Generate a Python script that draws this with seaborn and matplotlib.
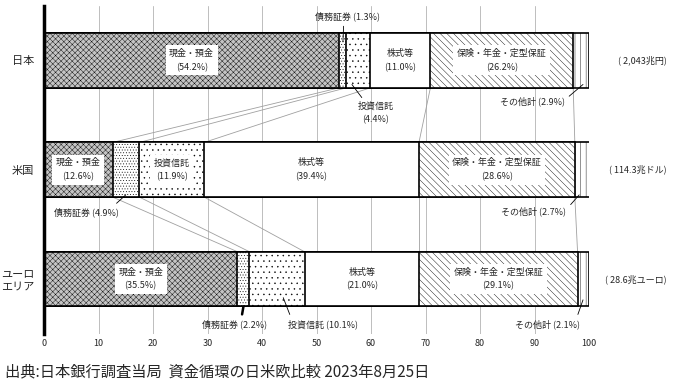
import matplotlib
matplotlib.use('Agg')
import matplotlib.pyplot as plt
import seaborn as sns
import pandas as pd
import numpy as np

# ---- data ----
regions = ['日本', '米国', 'ユーロ\nエリア']
totals = ['( 2,043兆円)', '( 114.3兆ドル)', '( 28.6兆ユーロ)']
segments = ['現金・預金', '債務証券', '投資信託', '株式等', '保険・年金・定型保証', 'その他計']
cash = [54.2, 12.6, 35.5]
debt = [1.3, 4.9, 2.2]
trusts = [4.4, 11.9, 10.1]
equity = [11.0, 39.4, 21.0]
insurance = [26.2, 28.6, 29.1]
other = [2.9, 2.7, 2.1]
xticks = list(range(0, 101, 10))
source = '出典:日本銀行調査当局  資金循環の日米欧比較 2023年8月25日'

# ---- styles ----
sns.set_style('white')
plt.rcParams['font.family'] = ['Noto Sans CJK JP', 'DejaVu Sans']
plt.rcParams['hatch.linewidth'] = 0.3

seg_styles = [
    dict(color='#c4c4c4', hatch='xxxxxx'),
    dict(color='white', hatch='......'),
    dict(color='white', hatch='...'),
    dict(color='white', hatch=''),
    dict(color='white', hatch='\\' * 5),
    dict(color='white', hatch='|||'),
]

values = np.array([cash, debt, trusts, equity, insurance, other])
cum = np.cumsum(values, axis=0)
starts = cum - values

df = pd.DataFrame({'region': regions})

fig = plt.figure(figsize=(6.75, 3.85), dpi=100)
ax = fig.add_axes([44 / 675, 1 - 333.75 / 385, 545 / 675, 328 / 385])

for k in reversed(range(len(segments))):
    df['v'] = cum[k]
    sns.barplot(data=df, x='v', y='region', order=regions, orient='h',
                width=0.5, saturation=1, errorbar=None,
                edgecolor='black', linewidth=1.2, ax=ax, **seg_styles[k])

# connecting lines between bars
for i in range(len(regions) - 1):
    for k in range(len(segments) - 1):
        ax.plot([cum[k][i], cum[k][i + 1]], [i + 0.25, i + 1 - 0.25],
                color='#a0a0a0', lw=0.6, zorder=0.8)

# inside labels
inside = {0: [0, 3, 4], 1: [0, 2, 3, 4], 2: [0, 3, 4]}
for i, ks in inside.items():
    for k in ks:
        cx = starts[k][i] + values[k][i] / 2
        ax.text(cx, i, f'{segments[k]}\n({values[k][i]:.1f}%)', ha='center', va='center',
                fontsize=6.5, linespacing=1.7, zorder=5,
                bbox=dict(facecolor='white', edgecolor='none', pad=2.5))

# outside labels with leaders: (region, segment, text pos, tip pos, format, relpos)
outside = [
    (0, 1, (55.6, -0.40), (54.85, -0.17), '{s} ({v}%)', (0.45, 0)),
    (0, 2, (60.9, 0.48), (56.5, 0.22), '{s}\n({v}%)', (0.2, 1)),
    (0, 5, (89.6, 0.37), (98.9, 0.22), '{s} ({v}%)', (1, 0.6)),
    (1, 1, (7.7, 1.39), (15.0, 1.23), '{s} ({v}%)', (0.9, 1)),
    (1, 5, (89.9, 1.38), (98.2, 1.23), '{s} ({v}%)', (1, 0.7)),
    (2, 1, (35.0, 2.41), (36.6, 2.25), '{s} ({v}%)', (0.6, 1)),
    (2, 2, (51.2, 2.41), (43.9, 2.17), '{s} ({v}%)', (0.05, 1)),
    (2, 5, (92.3, 2.41), (98.9, 2.19), '{s} ({v}%)', (0.95, 1)),
]
for i, k, tpos, tip, fmt, rel in outside:
    lw = 1.8 if (i == 2 and k == 1) else 0.6
    ax.annotate(fmt.format(s=segments[k], v=f'{values[k][i]:.1f}'), xy=tip, xytext=tpos,
                ha='center', va='center', fontsize=6.5, linespacing=1.5, zorder=6,
                arrowprops=dict(arrowstyle='-', lw=lw, color='black', shrinkA=1, shrinkB=0,
                                relpos=rel))

# totals
for i, t in enumerate(totals):
    ax.text(114.3, i, t, ha='right', va='center', fontsize=6.5, clip_on=False)

# axes
ax.set_xlim(0, 100)
ax.set_ylim(2.5, -0.5)
ax.set_xticks(xticks)
ax.set_xticklabels([str(t) for t in xticks], fontsize=6.5)
ax.set_yticks(range(len(regions)))
ax.set_yticklabels(regions, fontsize=8)
ax.set_yticks([-0.5, 0.5, 1.5, 2.5], minor=True)
ax.tick_params(axis='x', length=0, pad=4)
ax.tick_params(axis='y', which='major', length=0, pad=7)
ax.tick_params(axis='y', which='minor', length=6, width=2, direction='inout', color='black')
ax.set_xlabel('')
ax.set_ylabel('')
ax.grid(axis='x', color='#bdbdbd', lw=0.7)
ax.grid(axis='y', visible=False)
ax.set_axisbelow(True)
for s in ['top', 'right', 'bottom']:
    ax.spines[s].set_visible(False)
ax.spines['left'].set_linewidth(2.5)
ax.spines['left'].set_color('black')
ax.spines['left'].set_zorder(10)

fig.text(5 / 675, 1 - 372 / 385, source, fontsize=11, va='center', ha='left')

fig.savefig('out.png', dpi=100)
